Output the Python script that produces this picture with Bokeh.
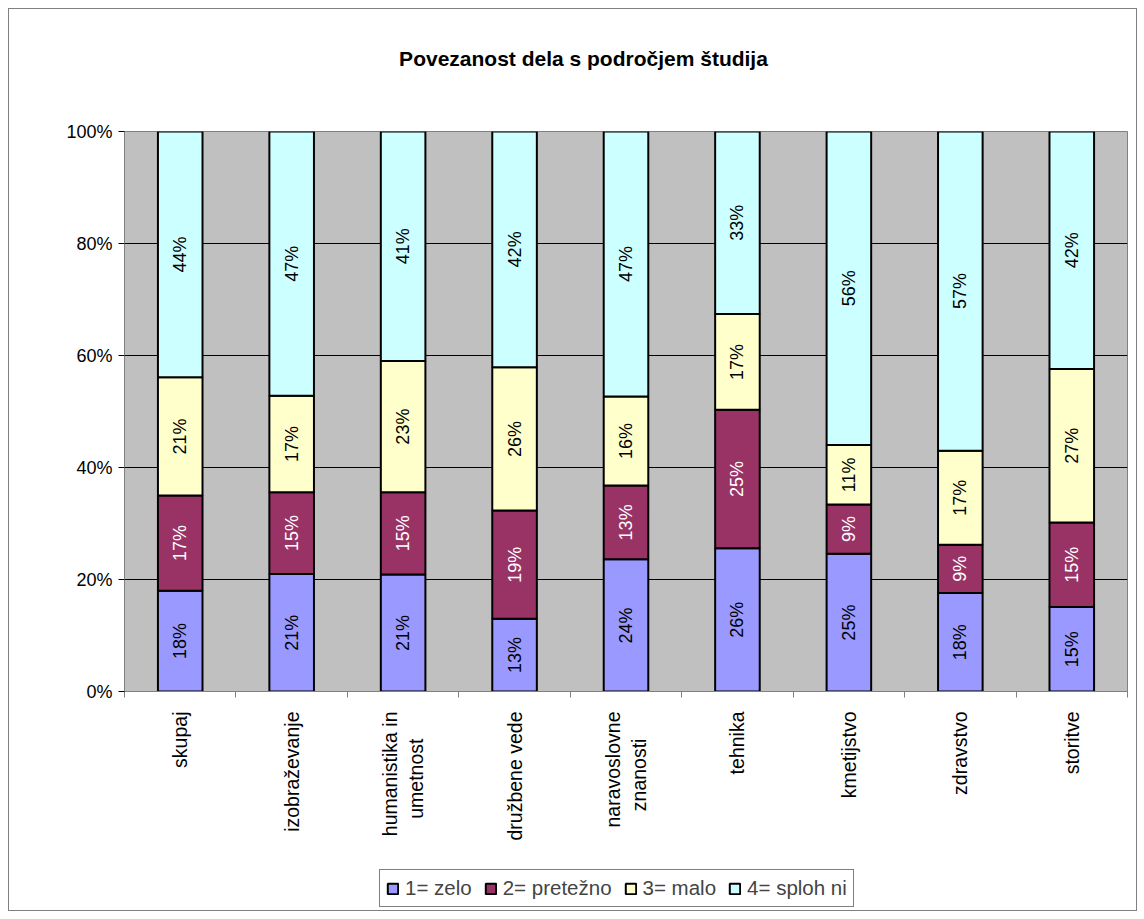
import math
from bokeh.plotting import figure
from bokeh.layouts import column
from bokeh.models import (ColumnDataSource, FixedTicker, PrintfTickFormatter,
                          Legend, LegendItem, Label, Range1d, BoxAnnotation)
from bokeh.core.properties import value
from bokeh.embed import file_html
from bokeh.resources import INLINE

# ---------------- data ----------------
NB = "\u00a0"
categories = ["skupaj", "izobraževanje", "humanistika in\numetnost" + NB * 5, "družbene vede",
              "naravoslovne\nznanosti" + NB * 5, "tehnika", "kmetijstvo", "zdravstvo", "storitve"]
series_names = ["1= zelo", "2= pretežno", "3= malo", "4= sploh ni"]
zelo = [18.0, 21.0, 20.9, 13.0, 23.6, 25.6, 24.6, 17.6, 15.1]
pretezno = [17.0, 14.6, 14.7, 19.3, 13.2, 24.7, 8.8, 8.6, 15.1]
malo = [21.1, 17.2, 23.4, 25.6, 15.9, 17.1, 10.6, 16.8, 27.4]
sploh_ni = [43.9, 47.2, 41.0, 42.1, 47.3, 32.6, 56.0, 57.0, 42.4]
y_ticks = [0, 20, 40, 60, 80, 100]
title_text = "Povezanost dela s področjem študija"

series = [zelo, pretezno, malo, sploh_ni]
colors = ["#9999FF", "#993366", "#FFFFCC", "#CCFFFF"]
label_colors = ["black", "white", "black", "black"]
FONT = "Liberation Sans"
W = 1127

n = len(categories)
xc = [i + 0.5 for i in range(n)]

# stacked sources
sources = []
bottoms = [0.0] * n
for vals in series:
    tops = [b + v for b, v in zip(bottoms, vals)]
    sources.append(ColumnDataSource(dict(
        x=xc, bottom=bottoms, top=tops,
        mid=[(b + t) / 2 for b, t in zip(bottoms, tops)],
        lab=[f"{round(v)}%" for v in vals])))
    bottoms = tops


def blank(h, **kw):
    f = figure(width=W, height=h, output_backend="svg", toolbar_location=None,
               min_border=0, x_axis_type=None, y_axis_type=None, **kw)
    f.xgrid.visible = False
    f.ygrid.visible = False
    f.outline_line_color = None
    f.background_fill_color = "white"
    f.border_fill_color = "white"
    return f


# ---- title strip (its frame is aligned with the main frame, left = 124) ----
tfig = blank(91)
tfig.add_layout(Label(x=459, y=42, x_units="screen", y_units="screen",
                      text=title_text, text_font=FONT, text_font_size="21px",
                      text_font_style="bold", text_align="center",
                      text_baseline="middle", text_color="black"))

# ---- main chart ----
p = figure(width=W, height=760, x_range=(0, n), y_range=(0, 100),
           output_backend="svg", toolbar_location=None,
           min_border_left=115, min_border_right=9, min_border_top=31,
           min_border_bottom=169)
p.background_fill_color = "#C0C0C0"
p.border_fill_color = "white"
p.outline_line_color = "#808080"
p.outline_line_width = 1

for s, src in enumerate(sources):
    p.vbar(x="x", width=0.4, bottom="bottom", top="top", source=src,
           fill_color=colors[s], line_color="black", line_width=2)
    p.text(x="x", y="mid", text="lab", source=src, angle=math.pi / 2,
           text_align="center", text_baseline="middle",
           text_font=value(FONT), text_font_size="18px",
           text_color=label_colors[s])

p.yaxis.ticker = FixedTicker(ticks=y_ticks)
p.yaxis.formatter = PrintfTickFormatter(format="%d%%")
p.yaxis.major_label_text_font = FONT
p.yaxis.major_label_text_font_size = "18px"
p.yaxis.major_label_text_color = "black"
p.yaxis.axis_line_color = "#808080"
p.yaxis.major_tick_line_color = "black"
p.yaxis.major_tick_out = 6
p.yaxis.major_tick_in = 0
p.yaxis.minor_tick_line_color = None
p.yaxis.major_label_standoff = 6

p.xaxis.ticker = FixedTicker(ticks=xc, minor_ticks=list(range(n + 1)))
p.xaxis.major_label_overrides = {x: c for x, c in zip(xc, categories)}
p.xaxis.major_label_orientation = math.pi / 2
p.xaxis.major_label_text_font = FONT
p.xaxis.major_label_text_font_size = "19.5px"
p.xaxis.major_label_text_color = "black"
p.xaxis.axis_line_color = "#808080"
p.xaxis.major_tick_line_color = None
p.xaxis.minor_tick_line_color = "#808080"
p.xaxis.minor_tick_out = 6
p.xaxis.minor_tick_in = 0
p.xaxis.major_label_standoff = 14

p.xgrid.grid_line_color = None
p.ygrid.grid_line_color = "black"
p.ygrid.grid_line_width = 1

# ---- legend strip: same bars drawn at the lowest level, covered by white ----
lfig = blank(50, x_range=Range1d(0, n), y_range=Range1d(-60, 200))
items = []
for s, src in enumerate(sources):
    r = lfig.vbar(x="x", width=0.4, bottom="bottom", top="top", source=src,
                  fill_color=colors[s], line_color="black", line_width=2,
                  level="image")
    items.append(LegendItem(label=series_names[s], renderers=[r]))
lfig.add_layout(BoxAnnotation(fill_color="white", fill_alpha=1.0,
                              line_color=None, level="underlay"))
legend = Legend(items=items, orientation="horizontal", location=(255, 3),
                label_text_font=FONT, label_text_font_size="20.5px",
                glyph_width=13, glyph_height=13, spacing=12, padding=6, margin=0,
                label_standoff=6, border_line_color="black", border_line_width=1,
                background_fill_color="white", background_fill_alpha=1)
lfig.add_layout(legend, "center")

layout = column(tfig, p, lfig, spacing=0,
                styles={"border": "1px solid #808080", "margin-left": "8px",
                        "margin-top": "8px"})

open("out.html", "w").write(file_html(layout, INLINE))
